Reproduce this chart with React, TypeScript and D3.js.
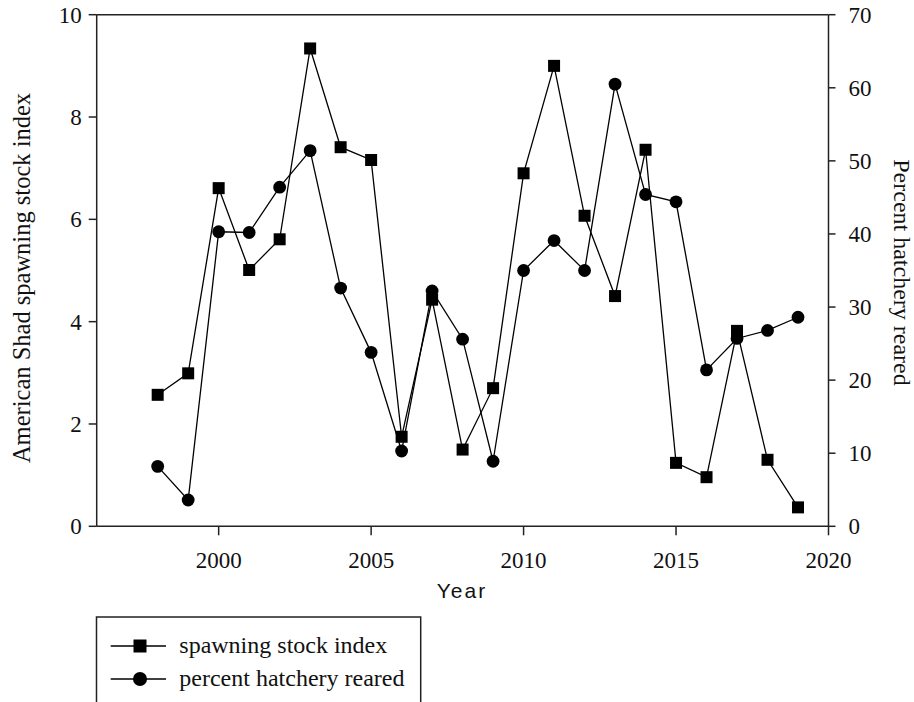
import React from "react";
import * as d3 from "d3";

const years = [1998, 1999, 2000, 2001, 2002, 2003, 2004, 2005, 2006, 2007, 2008, 2009, 2010, 2011, 2012, 2013, 2014, 2015, 2016, 2017, 2018, 2019];
const spawningIndex = [2.57, 2.99, 6.61, 5.01, 5.61, 9.34, 7.41, 7.16, 1.75, 4.43, 1.5, 2.7, 6.9, 9.0, 6.07, 4.5, 7.36, 1.24, 0.96, 3.82, 1.3, 0.37];
const percentHatchery = [8.2, 3.6, 40.3, 40.2, 46.4, 51.4, 32.6, 23.8, 10.3, 32.2, 25.6, 8.9, 35.0, 39.1, 35.0, 60.5, 45.4, 44.4, 21.4, 25.7, 26.8, 28.6];
const xTicks = [2000, 2005, 2010, 2015, 2020];
const leftTicks = [0, 2, 4, 6, 8, 10];
const rightTicks = [0, 10, 20, 30, 40, 50, 60, 70];
const legendLabels = ["spawning stock index", "percent hatchery reared"];

const SERIF = "'Liberation Serif', 'Times New Roman', serif";
const SANS = "'Liberation Sans', Arial, sans-serif";

export default function App() {
  const left = 96.7, right = 828.5, top = 14.7, bottom = 526.3;
  const x = d3.scaleLinear().domain([1996, 2020]).range([left, right]);
  const yL = d3.scaleLinear().domain([0, 10]).range([bottom, top]);
  const yR = d3.scaleLinear().domain([0, 70]).range([bottom, top]);

  const lineL = d3.line<number>().x((_, i) => x(years[i])).y((d) => yL(d));
  const lineR = d3.line<number>().x((_, i) => x(years[i])).y((d) => yR(d));

  const sq = 12;
  const cr = 6.4;
  const axisColor = "#222";
  const fs = 23;

  return (
    <svg width={914} height={702} style={{ position: "absolute", left: 0, top: 0, background: "#fff" }}>
      <rect x={0} y={0} width={914} height={702} fill="#fff" />
      {/* frame */}
      <line x1={left} y1={top} x2={right} y2={top} stroke={axisColor} strokeWidth={1.5} />
      <line x1={left} y1={top} x2={left} y2={bottom} stroke={axisColor} strokeWidth={1.5} />
      <line x1={right} y1={top} x2={right} y2={bottom} stroke={axisColor} strokeWidth={1.5} />
      <line x1={left} y1={bottom} x2={right} y2={bottom} stroke={axisColor} strokeWidth={1.5} />

      {/* left ticks */}
      {leftTicks.map((t) => (
        <g key={"l" + t}>
          <line x1={left - 8} x2={left} y1={yL(t)} y2={yL(t)} stroke={axisColor} strokeWidth={1.5} />
          <text x={left - 15} y={yL(t) + 8} textAnchor="end" fontFamily={SERIF} fontSize={fs} fill="#111">{t}</text>
        </g>
      ))}
      {/* right ticks */}
      {rightTicks.map((t) => (
        <g key={"r" + t}>
          <line x1={right} x2={right + 7} y1={yR(t)} y2={yR(t)} stroke={axisColor} strokeWidth={1.5} />
          <text x={right + 20} y={yR(t) + 8} textAnchor="start" fontFamily={SERIF} fontSize={fs} fill="#111">{t}</text>
        </g>
      ))}
      {/* x ticks */}
      {xTicks.map((t) => (
        <g key={"x" + t}>
          <line x1={x(t)} x2={x(t)} y1={bottom} y2={bottom + 9} stroke={axisColor} strokeWidth={1.5} />
          <text x={x(t)} y={568} textAnchor="middle" fontFamily={SERIF} fontSize={fs} fill="#111">{t}</text>
        </g>
      ))}

      {/* axis titles */}
      <text x={462} y={598} textAnchor="middle" fontFamily={SANS} fontSize={21} letterSpacing={2} fill="#111">Year</text>
      <text transform={`translate(30, ${(88 + 468) / 2}) rotate(-90)`} textAnchor="middle" fontFamily={SERIF} fontSize={24.5} fill="#111">American Shad spawning stock index</text>
      <text transform={`translate(894, ${(158 + 387) / 2}) rotate(90)`} textAnchor="middle" fontFamily={SERIF} fontSize={24} fill="#111">Percent hatchery reared</text>

      {/* series lines */}
      <path d={lineL(spawningIndex) || ""} fill="none" stroke="#000" strokeWidth={1.3} />
      <path d={lineR(percentHatchery) || ""} fill="none" stroke="#000" strokeWidth={1.3} />
      {spawningIndex.map((v, i) => (
        <rect key={"s" + i} x={x(years[i]) - sq / 2} y={yL(v) - sq / 2} width={sq} height={sq} fill="#000" />
      ))}
      {percentHatchery.map((v, i) => (
        <circle key={"c" + i} cx={x(years[i])} cy={yR(v)} r={cr} fill="#000" />
      ))}

      {/* legend */}
      <path d={`M96.5,712 L96.5,617 L420.7,617 L420.7,712`} fill="none" stroke={axisColor} strokeWidth={1.5} />
      <line x1={110.7} x2={166} y1={646} y2={646} stroke="#000" strokeWidth={1.3} />
      <rect x={140 - 6.5} y={646 - 6.5} width={13} height={13} fill="#000" />
      <text x={179.3} y={653} fontFamily={SERIF} fontSize={24} fill="#111">{legendLabels[0]}</text>
      <line x1={110.7} x2={166} y1={679} y2={679} stroke="#000" strokeWidth={1.3} />
      <circle cx={140} cy={679} r={7} fill="#000" />
      <text x={179.3} y={686} fontFamily={SERIF} fontSize={24} fill="#111">{legendLabels[1]}</text>
    </svg>
  );
}
